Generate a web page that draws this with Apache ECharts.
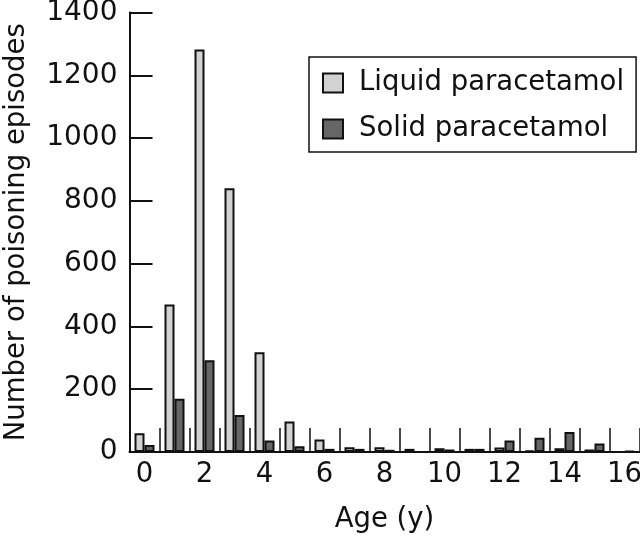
<!DOCTYPE html>
<html><head><meta charset="utf-8">
<script src="https://cdn.jsdelivr.net/npm/echarts@6/dist/echarts.min.js"></script>
<style>html,body{margin:0;padding:0;background:#fff}#c{width:640px;height:539px}</style>
</head><body><div id="c"></div>
<script>
const ages = ['0','1','2','3','4','5','6','7','8','9','10','11','12','13','14','15','16'];
const liquid = [60, 470, 1282, 840, 318, 97, 40, 15, 15, 10, 12, 10, 14, 5, 12, 8, 0];
const solid  = [22, 170, 292, 118, 37, 18, 10, 10, 7, 0, 8, 10, 37, 45, 64, 27, 3];
const yTicks = { min: 0, max: 1400, interval: 200 };
const FONT = 'DejaVu Sans';
const chart = echarts.init(document.getElementById('c'), null, {renderer: 'canvas'});
chart.setOption({
  animation: false,
  backgroundColor: '#fff',
  textStyle: { fontFamily: FONT, color: '#111' },
  grid: { left: 129.5, right: 0.5, top: 12.5, bottom: 87, containLabel: false, outerBoundsMode: 'none' },
  legend: {
    orient: 'vertical', left: 309, top: 57,
    padding: [12, 12, 9, 13],
    borderColor: '#111', borderWidth: 1.5,
    icon: 'rect',
    itemWidth: 20, itemHeight: 19, itemGap: 18,
    textStyle: { fontFamily: FONT, fontSize: 27.5, color: '#111', lineHeight: 26, padding: [0, 0, 0, 11] },
    data: ['Liquid paracetamol', 'Solid paracetamol']
  },
  xAxis: {
    type: 'category', data: ages,
    name: 'Age (y)', nameLocation: 'middle', nameGap: 54,
    nameTextStyle: { fontFamily: FONT, fontSize: 27.5, color: '#111' },
    axisLine: { show: true, lineStyle: { color: '#111', width: 2 } },
    axisTick: { show: true, inside: true, length: 24, interval: 0, alignWithLabel: false, lineStyle: { color: '#111', width: 1.5 } },
    axisLabel: { interval: 1, fontFamily: FONT, fontSize: 27.5, color: '#111', margin: 9 },
    splitLine: { show: false }
  },
  yAxis: {
    type: 'value', min: yTicks.min, max: yTicks.max, interval: yTicks.interval,
    name: 'Number of poisoning episodes', nameLocation: 'middle', nameGap: 99,
    nameTextStyle: { fontFamily: FONT, fontSize: 27.5, color: '#111' },
    axisLine: { show: true, lineStyle: { color: '#111', width: 2 } },
    axisTick: { show: true, inside: true, length: 23, lineStyle: { color: '#111', width: 2 } },
    axisLabel: { fontFamily: FONT, fontSize: 28, color: '#111', margin: 12, formatter: v => String(v) },
    splitLine: { show: false }
  },
  series: [
    { name: 'Liquid paracetamol', type: 'bar', data: liquid, barWidth: 10, barGap: '0%',
      itemStyle: { color: '#d2d2d2', borderColor: '#111', borderWidth: 2 } },
    { name: 'Solid paracetamol', type: 'bar', data: solid, barWidth: 10, barGap: '0%',
      itemStyle: { color: '#666666', borderColor: '#111', borderWidth: 2 } }
  ]
});
</script></body></html>
